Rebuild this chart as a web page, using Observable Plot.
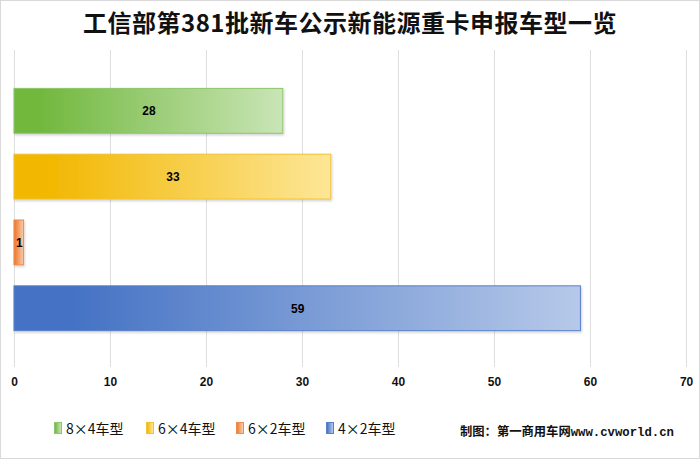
<!DOCTYPE html>
<html>
<head>
<meta charset="utf-8">
<script src="https://cdn.jsdelivr.net/npm/d3@7"></script>
<script src="https://cdn.jsdelivr.net/npm/@observablehq/plot@0.6"></script>
<style>
  html, body { margin: 0; padding: 0; background: #fff; }
  #wrap { position: relative; width: 700px; height: 459px; box-sizing: border-box; border: 1px solid #d9d9d9; overflow: hidden; font-family: "Noto Sans CJK SC", sans-serif; }
  #title { position: absolute; left: 0; top: 5px; width: 100%; text-align: center; font-size: 24px; font-weight: 700; color: #111; line-height: 32px; letter-spacing: 0.5px; }
  #chart { position: absolute; left: -1px; top: 49px; }
  .leg { position: absolute; top: 419px; font-size: 14px; color: #111; line-height: 16px; white-space: nowrap; }
  .sw { position: absolute; width: 8px; height: 12px; top: 421px; box-sizing: border-box; }
  #caption { position: absolute; left: 459px; top: 421px; font-size: 12.3px; font-weight: 700; color: #111; font-family: "Liberation Mono", "Noto Sans CJK SC", monospace; white-space: nowrap; }
</style>
</head>
<body>
<div id="wrap">
  <div id="title">工信部第381批新车公示新能源重卡申报车型一览</div>
  <div id="chart"></div>
  <div id="legend"></div>
  <div id="caption">制图：第一商用车网www.cvworld.cn</div>
</div>
<script>
const categories = ["8×4车型", "6×4车型", "6×2车型", "4×2车型"];
const values = [28, 33, 1, 59];
const xTicks = [0, 10, 20, 30, 40, 50, 60, 70];
const colorLeft = ["#72b83e", "#f2b700", "#ed7d31", "#4472c4"];
const colorRight = ["#c9e5b6", "#fde697", "#f9cdaf", "#b6c9e9"];
const colorStroke = ["#8dc56a", "#f0c232", "#ee8b48", "#5680cc"];

const data = categories.map((c, i) => ({category: c, value: values[i], i}));

const marks = [
  Plot.gridX(xTicks, {stroke: "#dedede", strokeOpacity: 1, strokeWidth: 1}),
  Plot.axisX(xTicks, {tickSize: 0, tickPadding: 10, fontSize: 12, fontWeight: "bold", fill: "#111", fontFamily: "Liberation Sans, Arial, sans-serif", tickFormat: d => String(d), label: null})
];
data.forEach(d => {
  marks.push(Plot.barX([d], {
    x: "value", y: "category",
    fill: `url(#grad${d.i})`, stroke: colorStroke[d.i], strokeWidth: 1,
    insetTop: 0.5, insetBottom: 0.5
  }));
});
marks.push(Plot.text(data, {
  x: d => d.value / 2, y: "category", text: d => String(d.value),
  fontSize: 12, fontWeight: "bold", fill: "#000",
  fontFamily: "Liberation Sans, Arial, sans-serif"
}));

const svg = Plot.plot({
  width: 701, height: 351,
  marginLeft: 14, marginRight: 13, marginTop: 0, marginBottom: 33,
  style: {background: "transparent", overflow: "visible"},
  x: {domain: [0, 70], label: null},
  y: {domain: categories, range: [37, 284], paddingInner: 0.3, paddingOuter: 0, axis: null},
  marks
});

const defs = d3.select(svg).insert("defs", ":first-child");
const flt = defs.append("filter").attr("id", "shadow").attr("x", "-10%").attr("y", "-10%").attr("width", "130%").attr("height", "140%");
flt.append("feDropShadow").attr("dx", 1).attr("dy", 1.5).attr("stdDeviation", 1.2).attr("flood-color", "#000").attr("flood-opacity", 0.18);
categories.forEach((c, i) => {
  const g = defs.append("linearGradient").attr("id", "grad" + i).attr("x1", "0").attr("x2", "1").attr("y1", "0").attr("y2", "0");
  g.append("stop").attr("offset", "0").attr("stop-color", colorLeft[i]);
  g.append("stop").attr("offset", "0.1").attr("stop-color", colorLeft[i]);
  g.append("stop").attr("offset", "1").attr("stop-color", colorRight[i]);
});
d3.select(svg).selectAll("g[aria-label='bar'] rect").attr("filter", "url(#shadow)");

document.getElementById("chart").appendChild(svg);

// legend
const legend = document.getElementById("legend");
const swX = [53, 145, 235, 325];
categories.forEach((c, i) => {
  const sw = document.createElement("div");
  sw.className = "sw";
  sw.style.left = swX[i] + "px";
  sw.style.background = `linear-gradient(to right, ${colorLeft[i]}, ${colorRight[i]})`;
  sw.style.border = `1px solid ${colorStroke[i]}`;
  legend.appendChild(sw);
  const t = document.createElement("div");
  t.className = "leg";
  t.style.left = (swX[i] + 12) + "px";
  t.textContent = c;
  legend.appendChild(t);
});
</script>
</body>
</html>
